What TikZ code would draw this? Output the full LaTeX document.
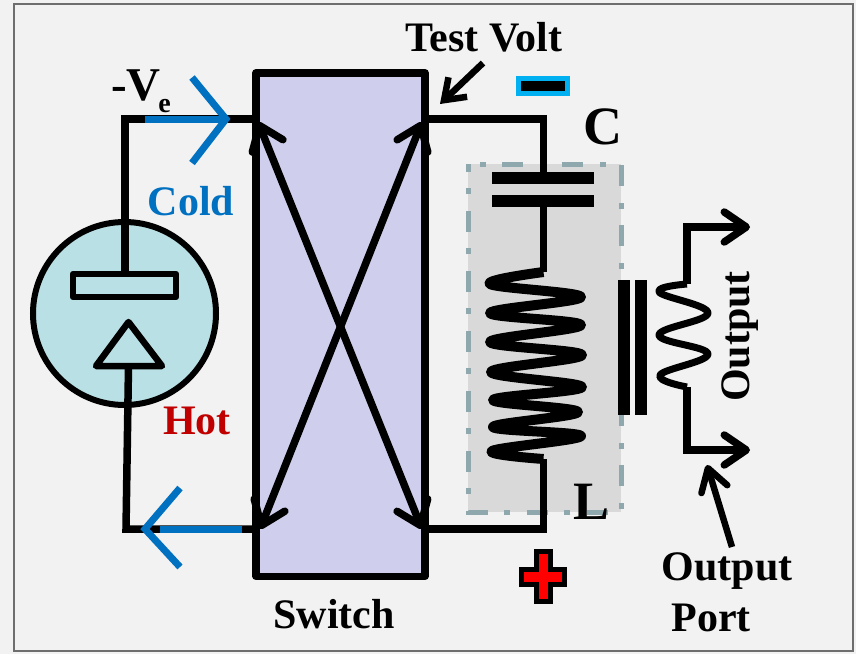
\documentclass[tikz,border=0pt]{standalone}
\usepackage{fontspec}
\setmainfont{Liberation Serif}
\usetikzlibrary{arrows.meta}
\definecolor{bgc}{HTML}{F2F2F2}
\definecolor{framec}{HTML}{6E6E6E}
\definecolor{switchc}{HTML}{CFCFED}
\definecolor{tubec}{HTML}{B9E0E4}
\definecolor{boxc}{HTML}{D9D9D9}
\definecolor{dashc}{HTML}{8FA8AD}
\definecolor{bluec}{HTML}{0070C0}
\definecolor{skyc}{HTML}{00B0F0}
\definecolor{hotc}{HTML}{C00000}
\tikzset{
  lab/.style={inner sep=0pt,anchor=base,font=\fontsize{42}{42}\selectfont\bfseries},
  biglab/.style={inner sep=0pt,anchor=base,font=\fontsize{54}{54}\selectfont\bfseries},
  wire/.style={line width=7.5pt,black,line cap=butt,line join=miter},
  bluewire/.style={line width=7pt,bluec},
  chev/.style={line width=7pt,bluec,line join=miter},
  diag/.style={line width=7.5pt,black,{Straight Barb[length=22pt,width=33pt,round]}-{Straight Barb[length=22pt,width=33pt,round]}},
  outarrow/.style={line width=7.5pt,black,-{Straight Barb[length=22pt,width=30pt,round]}},
  pointer/.style={line width=6.5pt,black,-{Straight Barb[length=19pt,width=27pt]}},
  portptr/.style={line width=6.5pt,black,-{Straight Barb[length=22pt,width=27pt,round]}},
  coil/.style={black,line join=round,line cap=butt}
}
\begin{document}
\begin{tikzpicture}[x=1pt,y=-1pt]
\useasboundingbox (0,0) rectangle (856,654);
\fill[bgc] (0,0) rectangle (856,654);
\draw[framec,line width=1.4pt] (14,4) rectangle (853,651);
% grey box
\fill[boxc] (468,164) rectangle (621,512);
\draw[dashc,line width=5pt,dash pattern=on 21pt off 17pt on 6pt off 16pt,dash phase=26pt]
  (468,164) -- (621,164) -- (621,512) -- (468,512) -- cycle;
% named points
\coordinate (swTL) at (258,122);
\coordinate (swTR) at (422,122);
\coordinate (swBL) at (260,529);
\coordinate (swBR) at (422,529);
\coordinate (wTL) at (256,119);
\coordinate (wTR) at (425,119);
\coordinate (wBL) at (256,529);
\coordinate (wBR) at (425,529);
\coordinate (cornA) at (125,119);
\coordinate (cornB) at (126,529);
\coordinate (cornC) at (543.5,119);
\coordinate (cornD) at (543.5,529);
\coordinate (capT) at (543.5,172);
\coordinate (capB) at (543.5,207);
\coordinate (coilT) at (543.5,272);
\coordinate (coilB) at (543.5,459);
\coordinate (secT) at (687,284);
\coordinate (secB) at (687,387);
\coordinate (outTc) at (687,227);
\coordinate (outBc) at (687,450);
\coordinate (outT) at (750,227);
\coordinate (outB) at (750,450);
% tube
\node[circle,draw=black,fill=tubec,line width=6pt,minimum size=183pt,inner sep=0pt] (tube) at (124.5,313.5) {};
\node[rectangle,draw=black,fill=tubec,line width=6.5pt,line join=round,minimum width=103pt,minimum height=23pt,inner sep=0pt] (cathode) at (124.5,285.5) {};
\draw[black,fill=tubec,line width=6.5pt,line join=round] (128.5,322) -- (162,366) -- (96,366) -- cycle;
\coordinate (anodeBase) at (128.5,366);
% switch box
\node[rectangle,draw=black,fill=switchc,line width=7.5pt,line join=round,minimum width=169pt,minimum height=503.5pt,inner sep=0pt] (switch) at (340.5,324.5) {};
% wires
\draw[wire] (cathode.north -| cornA) -- (cornA) -- (wTL);
\draw[wire] (anodeBase) -- (cornB) -- (wBL);
\draw[wire] (wTR) -- (cornC) -- (capT);
\draw[wire] (wBR) -- (cornD) -- (coilB);
\draw[wire] (capB) -- (coilT);
% crossing arrows
\draw[diag] (swTL) -- (swBR);
\draw[diag] (swTR) -- (swBL);
% cold/hot chevrons
\coordinate (coldS) at (145,119);
\coordinate (coldE) at (228,119);
\coordinate (hotS) at (242,529);
\coordinate (hotE) at (160,529);
\draw[bluewire] (coldS) -- (coldE);
\draw[bluewire] (hotS) -- (hotE);
\draw[chev] (192,77.5) -- (226,119) -- (192,163);
\draw[chev] (180,488) -- (145,529) -- (180,567);
% capacitor
\node[rectangle,fill=black,minimum width=102pt,minimum height=12pt,inner sep=0pt] (plateA) at (543,178) {};
\node[rectangle,fill=black,minimum width=102pt,minimum height=12pt,inner sep=0pt] (plateB) at (543,201) {};
% primary coil
\draw[coil,line width=10pt] plot[smooth,tension=.62] coordinates {
 (coilT) (490,284) (581,297) (490,313) (581,325) (490,342) (582,355) (491,372) (582,387) (493,400) (578,412) (493,427) (581,436) (492,451) (coilB)};
% core
\node[rectangle,fill=black,minimum width=12pt,minimum height=135pt,inner sep=0pt] (coreA) at (624,347.5) {};
\node[rectangle,fill=black,minimum width=12pt,minimum height=135pt,inner sep=0pt] (coreB) at (641,347.5) {};
% secondary coil
\draw[coil,line width=7pt] plot[smooth,tension=.7] coordinates {
 (secT) (659,292) (708,313) (659,335) (708,354) (660,375) (secB)};
\draw[wire] (secT) -- (outTc);
\draw[wire] (secB) -- (outBc);
\draw[outarrow] ([xshift=-3.75pt]outTc) -- (outT);
\draw[outarrow] ([xshift=-3.75pt]outBc) -- (outB);
% polarity marks
\node[rectangle,draw=skyc,fill=black,line width=5pt,minimum width=49pt,minimum height=15pt,inner sep=0pt] (minus) at (543,86) {};
\draw[black,fill=red,line width=5pt,line join=miter] (536.5,551.5) -- (550.5,551.5) -- (550.5,569.5) -- (564.5,569.5) -- (564.5,584.5) -- (550.5,584.5) -- (550.5,601.5) -- (536.5,601.5) -- (536.5,584.5) -- (521.5,584.5) -- (521.5,569.5) -- (536.5,569.5) -- cycle;
% labels
\node[lab] (test) at (484,51) {Test Volt};
\node[lab,text=bluec] (cold) at (191,215) {Cold};
\node[lab,text=hotc] (hot) at (197,434) {Hot};
\node[lab] (swl) at (334,628) {Switch};
\node[lab] (outp) at (727,580) {Output};
\node[lab] (port) at (711,631) {Port};
\node[biglab] (cl) at (602.5,144) {C};
\node[biglab] (ll) at (591,519) {L};
\node[lab,rotate=90] (outv) at (749,336.5) {Output};
\node[inner sep=0pt,anchor=base west,font=\fontsize{47}{47}\selectfont\bfseries] (ve) at (111,100) {-V\hspace{-2.5pt}\raisebox{-12pt}{\fontsize{28}{28}\selectfont e}};
% pointers
\coordinate (ptA) at (483,63);
\coordinate (ptB) at (440,104);
\coordinate (ptC) at (732,547);
\coordinate (ptD) at (707,465);
\draw[pointer] (ptA) -- (ptB);
\draw[portptr] (ptC) -- (ptD);
\end{tikzpicture}
\end{document}
